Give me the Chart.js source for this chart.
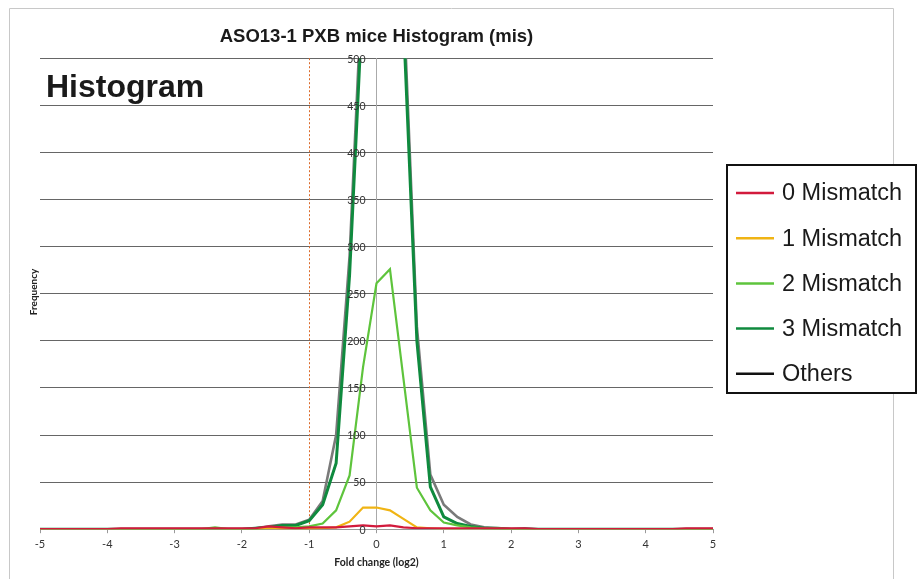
<!DOCTYPE html>
<html>
<head>
<meta charset="utf-8">
<script src="https://cdn.jsdelivr.net/npm/chart.js@4.4.1/dist/chart.umd.min.js"></script>
<style>
  html, body { margin: 0; padding: 0; background: #ffffff; }
  #wrap { width: 919px; height: 579px; position: relative; }
  canvas { display: block; }
</style>
</head>
<body>
<div id="wrap"><canvas id="c" width="919" height="579"></canvas></div>
<script>
// ---- data ----
const foldChange = [-5.0, -4.8, -4.6, -4.4, -4.2, -4.0, -3.8, -3.6, -3.4, -3.2, -3.0, -2.8, -2.6, -2.4, -2.2, -2.0, -1.8, -1.6, -1.4, -1.2, -1.0, -0.8, -0.6, -0.4, -0.2, 0.0, 0.2, 0.4, 0.6, 0.8, 1.0, 1.2, 1.4, 1.6, 1.8, 2.0, 2.2, 2.4, 2.6, 2.8, 3.0, 3.2, 3.4, 3.6, 3.8, 4.0, 4.2, 4.4, 4.6, 4.8, 5.0];
const mismatch0 = [0, 0, 0, 0, 0, 0, 1, 1, 1, 1, 1, 1, 1, 1, 1, 1, 1, 3, 2, 1, 2, 2, 2, 3, 4, 3, 4, 2, 1, 1, 1, 1, 1, 1, 1, 1, 1, 0, 0, 0, 0, 0, 0, 0, 0, 0, 0, 0, 1, 1, 1];
const mismatch1 = [0, 0, 0, 0, 0, 0, 0, 0, 0, 0, 0, 0, 0, 0, 0, 0, 0, 1, 0, 0, 0, 1, 2, 8, 23, 23, 20, 11, 2, 1, 0, 0, 0, 0, 0, 0, 0, 0, 0, 0, 0, 0, 0, 0, 0, 0, 0, 0, 0, 0, 0];
const mismatch2 = [0, 0, 0, 0, 0, 0, 0, 0, 0, 0, 0, 0, 0, 2, 0, 0, 0, 1, 2, 2, 3, 6, 20, 57, 172, 261, 276, 160, 44, 20, 7, 4, 2, 1, 1, 0, 0, 0, 0, 0, 0, 0, 0, 0, 0, 0, 0, 0, 0, 0, 0];
const mismatch3 = [0, 0, 0, 0, 0, 0, 0, 0, 0, 0, 0, 0, 0, 0, 0, 0, 1, 2, 4, 4, 9, 26, 70, 270, 570, 720, 700, 540, 200, 45, 13, 6, 3, 1, 1, 0, 0, 0, 0, 0, 0, 0, 0, 0, 0, 0, 0, 0, 0, 0, 0];
const others    = [0, 0, 0, 0, 0, 0, 0, 0, 0, 0, 0, 0, 0, 0, 0, 0, 1, 3, 5, 5, 10, 30, 100, 290, 600, 750, 730, 565, 215, 58, 26, 13, 5, 2, 1, 0, 1, 0, 0, 0, 0, 0, 0, 0, 0, 0, 0, 0, 0, 0, 0];
const seriesLabels = ['0 Mismatch', '1 Mismatch', '2 Mismatch', '3 Mismatch', 'Others'];
const yTickStep = 50;
const xTickStep = 1;
const markerX = -1;

const seriesValues = [mismatch0, mismatch1, mismatch2, mismatch3, others];
const seriesColors = ['#d21a3c', '#f0b414', '#5ec43c', '#0f8a3e', '#7a7a7a'];
const seriesWidths = [2.2, 2.2, 2.2, 3, 2.6];

const datasets = seriesLabels.map((lab, k) => ({
  label: lab,
  data: foldChange.map((x, i) => ({ x: x, y: seriesValues[k][i] })),
  borderColor: seriesColors[k],
  backgroundColor: seriesColors[k],
  borderWidth: seriesWidths[k],
  pointRadius: 0,
  tension: 0,
  fill: false
}));

const decorPlugin = {
  id: 'decor',
  beforeDatasetsDraw(chart) {
    const ctx = chart.ctx, ca = chart.chartArea;
    const px = chart.scales.x.getPixelForValue(markerX);
    ctx.save();
    ctx.strokeStyle = '#db6a2a';
    ctx.lineWidth = 1;
    ctx.setLineDash([2, 2]);
    ctx.beginPath();
    ctx.moveTo(Math.round(px) + 0.5, ca.top);
    ctx.lineTo(Math.round(px) + 0.5, ca.bottom);
    ctx.stroke();
    ctx.restore();
  },
  afterDatasetsDraw(chart) {
    // y tick labels sitting just left of the x=0 axis line
    const ctx = chart.ctx;
    const ys = chart.scales.y;
    const ax = chart.scales.x.getPixelForValue(0);
    ctx.save();
    ctx.font = '10.5px Lato, "Open Sans", sans-serif';
    ctx.fillStyle = '#333';
    ctx.textAlign = 'right';
    ctx.textBaseline = 'middle';
    ys.ticks.forEach(t => {
      ctx.fillText(String(t.value), ax - 11, ys.getPixelForValue(t.value) + 1);
    });
    ctx.restore();
  },
  afterDraw(chart) {
    const ctx = chart.ctx;
    ctx.save();
    // outer frame (faint)
    ctx.strokeStyle = '#c8c8c8';
    ctx.lineWidth = 1;
    ctx.beginPath();
    ctx.moveTo(9.5, 579);
    ctx.lineTo(9.5, 8.5);
    ctx.lineTo(893.5, 8.5);
    ctx.lineTo(893.5, 579);
    ctx.stroke();

    // big "Histogram" label
    ctx.fillStyle = '#1a1a1a';
    ctx.font = 'bold 32px "Liberation Sans", Arial, sans-serif';
    ctx.textAlign = 'left';
    ctx.textBaseline = 'alphabetic';
    ctx.fillText('Histogram', 46, 97);

    // y axis title
    ctx.save();
    ctx.translate(34, 292);
    ctx.rotate(-Math.PI / 2);
    ctx.font = 'bold 10px Lato, "Open Sans", sans-serif';
    ctx.textAlign = 'center';
    ctx.textBaseline = 'middle';
    ctx.fillStyle = '#222';
    ctx.fillText('Frequency', 0, 0);
    ctx.restore();

    // legend box
    const bx = 727, by = 165, bw = 189, bh = 228;
    ctx.fillStyle = '#ffffff';
    ctx.fillRect(bx, by, bw, bh);
    ctx.strokeStyle = '#111';
    ctx.lineWidth = 2;
    ctx.strokeRect(bx, by, bw, bh);
    const dsets = chart.data.datasets;
    const rowStep = 45.2;
    ctx.font = '23.5px "Liberation Sans", Arial, sans-serif';
    ctx.textBaseline = 'middle';
    ctx.textAlign = 'left';
    dsets.forEach((ds, i) => {
      const cy = 193 + i * rowStep;
      ctx.strokeStyle = (i === 4) ? '#111' : ds.borderColor;
      ctx.lineWidth = 2.5;
      ctx.beginPath();
      ctx.moveTo(736, cy);
      ctx.lineTo(774, cy);
      ctx.stroke();
      ctx.fillStyle = '#1a1a1a';
      ctx.fillText(ds.label, 782, cy + 1);
    });
    ctx.restore();
  }
};

const chart = new Chart(document.getElementById('c'), {
  type: 'line',
  data: { datasets: datasets },
  options: {
    responsive: false,
    animation: false,
    layout: { padding: { left: 40, right: 206, top: 0, bottom: 7 } },
    scales: {
      x: {
        type: 'linear',
        min: -5,
        max: 5,
        ticks: {
          stepSize: xTickStep,
          color: '#333',
          font: { family: 'Lato, "Open Sans", sans-serif', size: 11 },
          padding: 5
        },
        grid: { drawOnChartArea: false, drawTicks: true, tickLength: 4, color: '#999' },
        border: { color: '#999' },
        title: {
          display: true,
          text: 'Fold change (log2)',
          color: '#222',
          font: { family: 'Lato, "Open Sans", sans-serif', size: 10.5, weight: 'bold' },
          padding: { top: 0, bottom: 3 }
        }
      },
      y: {
        position: { x: 0 },
        min: 0,
        max: 500,
        ticks: {
          stepSize: yTickStep,
          display: false
        },
        grid: { color: '#666666', drawTicks: false, lineWidth: 1 },
        border: { color: '#aaaaaa' }
      }
    },
    plugins: {
      legend: { display: false },
      tooltip: { enabled: false },
      title: {
        display: true,
        text: 'ASO13-1 PXB mice Histogram (mis)',
        color: '#1a1a1a',
        font: { family: '"Liberation Sans", Arial, sans-serif', size: 18.5, weight: 'bold' },
        padding: { top: 26, bottom: 10 }
      }
    }
  },
  plugins: [decorPlugin]
});
</script>
</body>
</html>
